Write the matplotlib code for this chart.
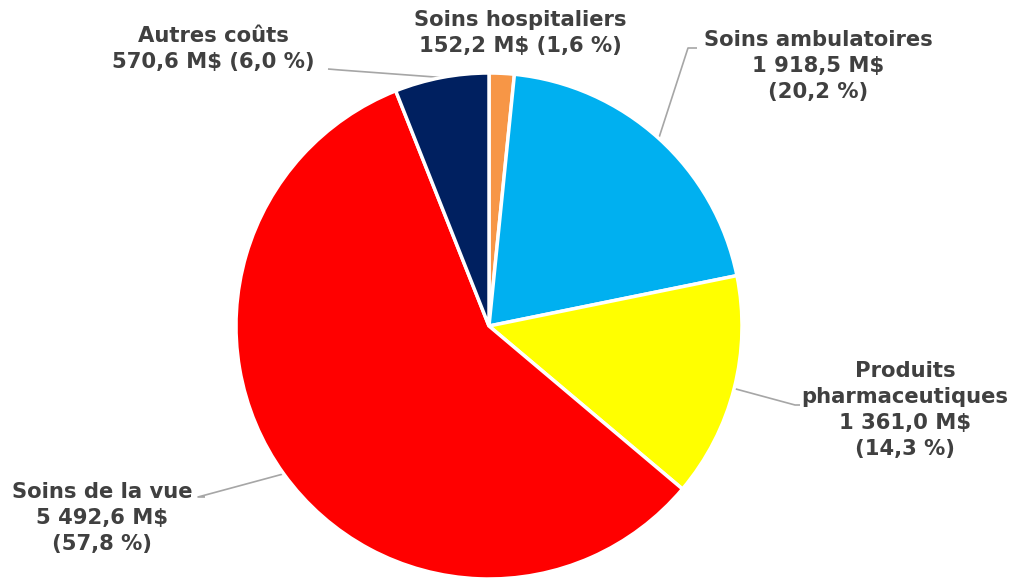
import matplotlib.pyplot as plt
import numpy as np

# ----------------------------- Data -----------------------------#
categories = ["Soins hospitaliers", "Soins ambulatoires", "Produits\npharmaceutiques",
              "Soins de la vue", "Autres coûts"]
values = [152.2, 1918.5, 1361.0, 5492.6, 570.6]
value_labels = ["152,2 M$", "1 918,5 M$", "1 361,0 M$", "5 492,6 M$", "570,6 M$"]
pct_labels = ["1,6 %", "20,2 %", "14,3 %", "57,8 %", "6,0 %"]
colors = ["#F79646", "#00B0F0", "#FFFF00", "#FF0000", "#002060"]

# ----------------------------- Plot -----------------------------#
W, H = 1016, 580
fig = plt.figure(figsize=(W / 100, H / 100), dpi=100)
ax = fig.add_axes([0, 0, 1, 1])

cx, cy, r = 489, H - 326, 253
wedges, _ = ax.pie(values, colors=colors, startangle=90, counterclock=False,
                   center=(cx, cy), radius=r, frame=True,
                   wedgeprops={"edgecolor": "white", "linewidth": 2.5})
ax.set_xlim(0, W)
ax.set_ylim(0, H)
ax.set_aspect("equal")
ax.axis("off")

txt = {"fontsize": 15.2, "fontweight": "bold", "color": "#404040",
       "ha": "center", "va": "center", "linespacing": 1.38, "family": "DejaVu Sans"}
line_col = "#A6A6A6"

# label texts: (text, x, y in pixel from top, leader elbow)
texts = [
    (f"{categories[0]}\n{value_labels[0]} ({pct_labels[0]})", 520, 33, None),
    (f"{categories[1]}\n{value_labels[1]}\n({pct_labels[1]})", 818, 66, (697, 48, 688, 48)),
    (f"{categories[2]}\n{value_labels[2]}\n({pct_labels[2]})", 905, 410, (800, 405, 795, 405)),
    (f"{categories[3]}\n{value_labels[3]}\n({pct_labels[3]})", 102, 518, (205, 497, 198, 497)),
    (f"{categories[4]}\n{value_labels[4]} ({pct_labels[4]})", 213, 49, (328, 69, 340, 70)),
]

for w, (s, x, y, leader) in zip(wedges, texts):
    ax.text(x, H - y, s, **txt)
    if leader is not None:
        ang = np.deg2rad((w.theta1 + w.theta2) / 2)
        ex, ey = cx + r * np.cos(ang), cy + r * np.sin(ang)
        x0, y0, x1, y1 = leader
        ax.plot([x0, x1, ex], [H - y0, H - y1, ey], color=line_col, lw=1.2,
                solid_capstyle="butt", zorder=0.5)

fig.savefig("out.png", dpi=100)
